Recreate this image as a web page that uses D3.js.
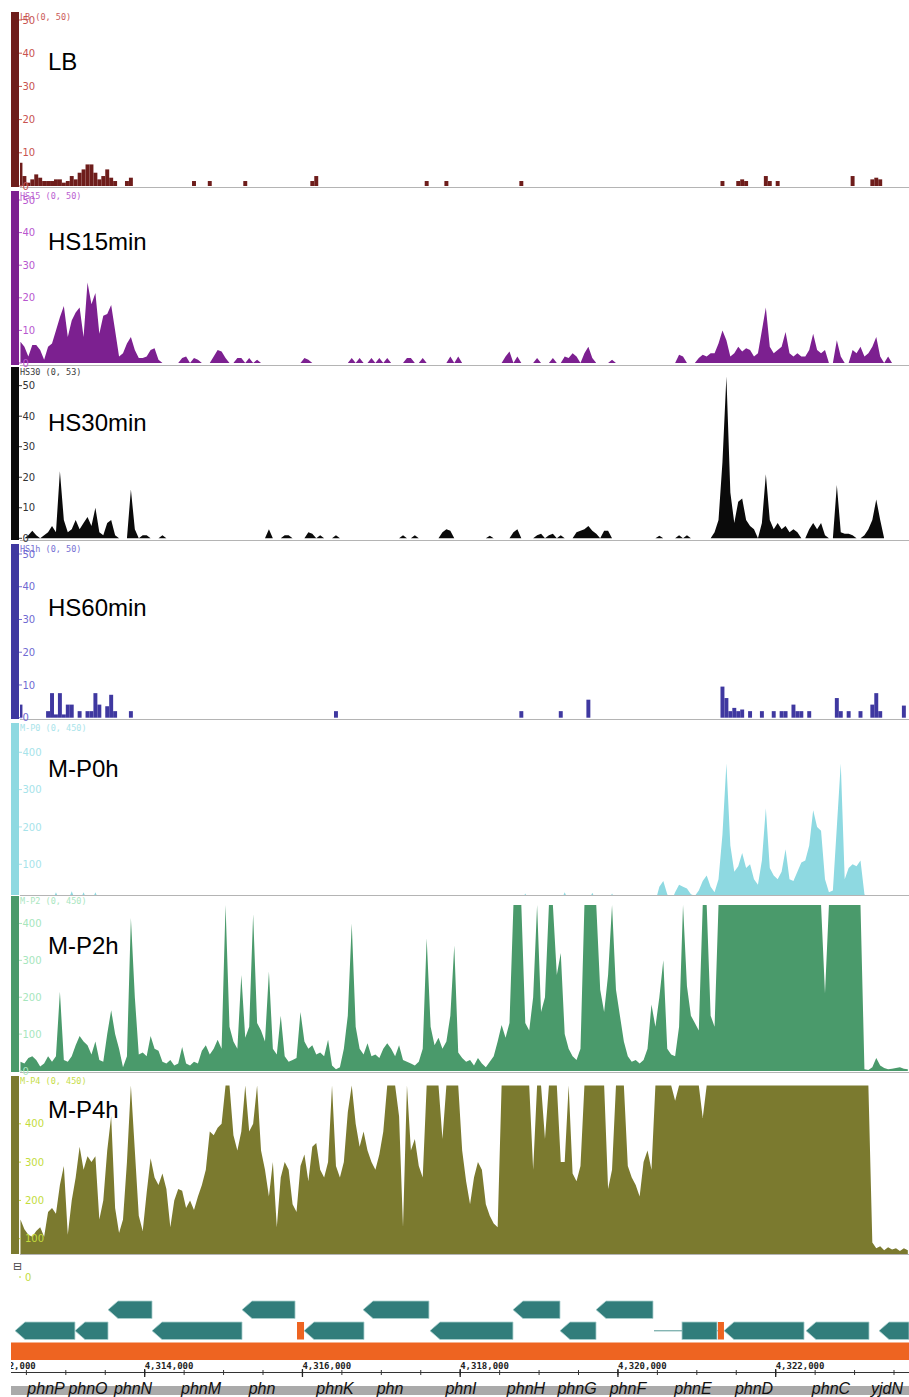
<!DOCTYPE html>
<html><head><meta charset="utf-8">
<script src="https://cdn.jsdelivr.net/npm/d3@7"></script>
<style>body{margin:0;background:#fff}svg{display:block}</style>
</head><body>
<svg id="c" width="909" height="1397"></svg>
<script>
// ---------------- DATA ----------------
const BIN_START = 4312400, BIN_SIZE = 50, N_BINS = 226;

// sparse tracks: [binIndex, coverage]
const lbData = [[0,7],[1,3],[2,1],[3,2],[4,3.5],[5,2.5],[6,1.5],[7,1.5],[8,1.5],[9,2],[10,2],[11,1],[12,1.5],[13,3],[14,2],[15,4],[16,5],[17,6.5],[18,6.5],[19,4],[20,2],[21,3],[22,5],[23,2.5],[24,1.5],[27,1.5],[28,2.5],[44,1.5],[48,1.5],[57,1.5],[74,1.5],[75,3],[103,1.5],[108,1.5],[127,1.5],[178,1.5],[182,1.5],[183,2],[184,1.5],[189,3],[190,1.5],[192,1.5],[211,3],[216,2],[217,2.5],[218,2]];

const hs15Data = [[0,6.5],[1,5],[2,2],[3,5.5],[4,5.5],[5,4],[6,1],[7,5],[8,6],[9,10],[10,14],[11,17.5],[12,8],[13,13],[14,15.5],[15,17],[16,8],[17,24.7],[18,18],[19,21.5],[20,9],[21,14.5],[22,15],[23,17.8],[24,10],[25,2],[26,3],[27,6],[28,8],[29,4],[30,1.5],[31,1.5],[32,2],[33,4],[34,4.5],[35,1],[41,1.5],[42,2],[44,1.5],[45,1],[49,2],[50,4],[51,3.5],[52,1.5],[55,1.5],[56,1.5],[58,1.5],[60,1],[72,1.5],[73,1],[84,1.5],[86,1.5],[89,1.5],[91,1.5],[93,1.5],[98,1.5],[99,1.5],[102,1.5],[109,2],[111,2],[123,2],[124,3.5],[126,2],[131,1.5],[135,1.5],[138,2],[139,1.5],[140,3],[141,2],[143,3],[144,5],[145,1.5],[150,1],[167,2.5],[168,2],[172,1.5],[173,2.5],[174,2],[175,3],[176,3],[177,6],[178,10],[179,7],[180,2],[181,3],[182,5],[183,3.5],[184,4.5],[185,4],[186,2],[187,3],[188,10],[189,17],[190,5],[191,3],[192,4],[193,5],[194,9.5],[195,3],[196,2],[197,3],[198,2],[199,2],[200,4],[201,9],[202,4],[203,3],[204,4],[207,7],[208,2],[211,4],[212,3],[213,5],[214,2],[215,3],[216,5],[217,8],[218,2],[220,2]];

const hs30Data = [[2,1],[3,2.5],[4,1],[6,1],[7,2],[8,4],[9,2],[10,22],[11,6],[12,2],[13,3],[14,6],[15,3],[16,5],[17,7],[18,4],[19,10],[20,2],[21,1],[22,5],[23,6],[24,1],[28,16],[29,3],[31,1],[32,1],[36,1],[63,3],[67,1],[68,1],[73,2],[74,1.5],[76,1],[80,1],[97,1],[100,1],[107,2],[108,3],[109,2.5],[119,0.8],[125,2],[126,3],[131,1],[132,1.5],[134,1],[135,1.5],[137,1],[141,2],[142,2.5],[143,3],[144,4],[145,2.5],[146,1.5],[148,2.5],[149,2.5],[162,0.8],[167,1],[169,1],[176,2],[177,6],[178,25],[179,53],[180,15],[181,5],[182,12],[183,13],[184,6],[185,4],[186,3],[188,5],[189,21],[190,6],[191,3],[192,5],[193,3],[194,4],[195,2],[196,3],[197,2],[200,3],[201,5],[202,3],[203,5],[204,1],[207,17.5],[208,2],[209,1.5],[210,1.5],[211,1],[214,1],[215,3],[216,6],[217,12.7],[218,6]];

const hs60Data = [[0,4],[7,2],[8,7.5],[9,1],[10,7.5],[11,1],[12,4],[13,4],[15,2],[17,2],[18,2],[19,7.5],[20,4],[22,3.5],[23,7],[24,2],[28,2],[80,2],[127,2],[137,2],[144,5.5],[178,9.5],[179,6],[180,2],[181,3],[182,2],[183,2.5],[185,2],[188,2],[191,2],[193,2],[194,2],[196,4],[197,2],[198,2],[200,2],[207,6],[208,2],[210,2],[213,2],[216,4],[217,7.5],[218,2],[224,3.7]];

const mp0Data = [[9,25],[13,28],[16,25],[19,25],[128,22],[138,25],[145,24],[150,22],[162,40],[163,55],[164,20],[166,25],[167,45],[168,40],[169,35],[170,20],[171,15],[172,30],[173,55],[174,70],[175,40],[176,25],[177,60],[178,180],[179,370],[180,150],[181,80],[182,95],[183,130],[184,90],[185,100],[186,60],[187,45],[188,110],[189,250],[190,90],[191,70],[192,60],[193,80],[194,140],[195,60],[196,55],[197,80],[198,105],[199,110],[200,150],[201,245],[202,200],[203,190],[204,60],[205,25],[206,30],[207,200],[208,370],[209,60],[210,90],[211,100],[212,95],[213,110],[214,20]];

const mp2Data = [25,20,35,40,30,12,20,40,25,40,
 215,30,25,40,70,95,80,70,45,80,
 30,25,100,165,100,60,10,40,415,200,
 45,50,40,95,60,55,25,20,30,15,
 20,65,20,15,25,20,55,70,45,60,
 85,60,450,120,80,60,260,90,120,425,
 130,110,80,270,60,45,150,40,25,30,
 35,160,80,60,70,45,50,40,85,15,
 5,10,60,150,400,120,60,45,75,40,
 45,35,60,75,60,40,70,30,25,20,
 15,25,60,360,120,70,90,60,80,150,
 340,50,35,25,30,15,35,20,10,25,
 40,80,125,90,130,450,450,450,130,110,
 200,450,160,200,450,450,260,320,100,60,
 40,30,60,450,450,450,450,220,160,260,
 450,220,150,80,40,25,30,20,30,60,
 180,120,200,300,60,45,40,120,450,230,
 150,130,110,450,450,150,120,450,450,450,
 450,450,450,450,450,450,450,450,450,450,
 450,450,450,450,450,450,450,450,450,450,
 450,450,450,450,210,450,450,450,450,450,
 450,450,450,450,5,3,10,35,15,8,
 5,6,8,10,6,5];

const mp4Data = [150,125,110,105,120,130,105,170,180,165,
 240,290,110,200,260,340,280,315,300,315,
 150,200,330,420,180,115,150,300,500,330,
 160,120,220,310,260,240,270,230,130,200,
 230,225,180,200,175,210,240,280,380,370,
 390,400,500,500,370,330,380,500,380,400,
 500,330,280,210,300,130,260,300,280,190,
 170,290,320,250,340,350,280,260,300,500,
 290,260,300,430,500,400,340,380,330,300,
 280,320,380,500,500,500,420,130,500,330,
 360,290,260,500,500,500,500,360,500,500,
 500,500,330,250,190,260,300,280,190,160,
 140,130,500,500,500,500,500,500,500,500,
 280,500,500,360,500,500,500,300,300,500,
 270,250,290,500,500,500,500,500,500,230,
 280,500,500,500,290,260,240,210,300,330,
 280,500,500,500,500,500,460,500,500,500,
 500,500,500,415,500,500,500,500,500,500,
 500,500,500,500,500,500,500,500,500,500,
 500,500,500,500,500,500,500,500,500,500,
 500,500,500,500,500,500,500,500,500,500,
 500,500,500,500,500,500,90,75,80,70,
 78,72,75,68,75,70];

// tick labels
const ticks50 = [0,10,20,30,40,50];
const ticksP0 = [100,200,300,400];
const ticksP2 = [0,100,200,300,400];
const ticksP4 = [0,100,200,300,400];
const axisMajorTicks = [4312000,4314000,4316000,4318000,4320000,4322000];

// genes: [start, end, row, kind]  kind: gene (arrow left), block (no arrow), rna (orange), line
const geneStart = [4313535,4315234,4316768,4318669,4319722, 4312356,4313116,4314093,4316020,4317617,4319265,4320812,4321344,4322384,4323310, 4315931,4321268, 4320457,4321256];
const geneEnd   = [4314093,4315906,4317604,4319265,4320444, 4313116,4313535,4315234,4316780,4318669,4319722,4321256,4322359,4323183,4324100, 4316020,4321344, 4320812,4321268];
const geneRow   = [0,0,0,0,0, 1,1,1,1,1,1,1,1,1,1, 1,1, 1,1];
const geneKind  = ["gene","gene","gene","gene","gene", "gene","gene","gene","gene","gene","gene","block","gene","gene","gene", "rna","rna", "line","line"];
const geneNames = ["phnP","phnO","phnN","phnM","phn","phnK","phn","phnI","phnH","phnG","phnF","phnE","phnD","phnC","yjdN"];
const geneNamePos = [4312749,4313281,4313852,4314714,4315487,4316413,4317110,4318010,4318834,4319481,4320127,4320951,4321725,4322701,4323411];

// ---------------- DRAW ----------------
const svg = d3.select("#c");
const x = d3.scaleLinear().domain([4312305, 4323690]).range([11, 909]);
const binCenter = i => BIN_START + BIN_SIZE * (i + 0.5);
function expand(sparse){ const a = new Array(N_BINS).fill(0); sparse.forEach(([i,v]) => a[i] = v); return a; }

const tracks = [
 {title:"LB", header:"LB (0, 50)", values:expand(lbData), top:12, bottom:187, zero:186, vmax:50, ymax:20, ticks:ticks50, color:"#6e1d1b", tick:"#c85250", bars:true, titleY:70},
 {title:"HS15min", header:"HS15 (0, 50)", values:expand(hs15Data), top:191, bottom:365, zero:363, vmax:50, ymax:200, ticks:ticks50, color:"#7c2090", tick:"#b857cf", bars:false, titleY:250},
 {title:"HS30min", header:"HS30 (0, 53)", values:expand(hs30Data), top:367, bottom:540, zero:538.3, vmax:53, ymax:376.5, ticks:ticks50, color:"#0a0a0a", tick:"#333333", bars:false, titleY:431},
 {title:"HS60min", header:"HS1h (0, 50)", values:expand(hs60Data), top:544, bottom:719, zero:717.7, vmax:50, ymax:554, ticks:ticks50, color:"#3f38a0", tick:"#6f6ad2", bars:true, titleY:616},
 {title:"M-P0h", header:"M-P0 (0, 450)", values:expand(mp0Data), top:723, bottom:895, zero:901.6, vmax:450, ymax:733.6, ticks:ticksP0, color:"#8ed9e1", tick:"#a6e3ea", bars:false, titleY:777},
 {title:"M-P2h", header:"M-P2 (0, 450)", values:mp2Data, top:896, bottom:1072, zero:1071, vmax:450, ymax:905, ticks:ticksP2, color:"#4a9a6b", tick:"#a6e6bd", bars:false, titleY:954},
 {title:"M-P4h", header:"M-P4 (0, 450)", values:mp4Data, top:1076, bottom:1254, zero:1277, vmax:500, ymax:1085.5, ticks:ticksP4, color:"#7b7a2f", tick:"#c3dc3c", bars:false, titleY:1118, spaced:true}
];

const defs = svg.append("defs");
tracks.forEach((t, k) => {
  const g = svg.append("g");
  const y = d3.scaleLinear().domain([0, t.vmax]).range([t.zero, t.ymax]).clamp(true);
  defs.append("clipPath").attr("id", "clip" + k).append("rect")
    .attr("x", 20).attr("y", t.top).attr("width", 889).attr("height", t.bottom - t.top);
  const dg = g.append("g").attr("clip-path", `url(#clip${k})`);
  if (t.bars) {
    dg.selectAll("rect").data(t.values.map((v,i)=>({v,i})).filter(d=>d.v>0)).join("rect")
      .attr("x", d => x(BIN_START + BIN_SIZE*d.i))
      .attr("width", d => x(BIN_START + BIN_SIZE*(d.i+1)) - x(BIN_START + BIN_SIZE*d.i))
      .attr("y", d => y(d.v)).attr("height", d => t.zero - y(d.v))
      .attr("fill", t.color);
  } else {
    const area = d3.area().x((d,i) => x(binCenter(i))).y0(t.zero).y1(d => y(d)).curve(d3.curveLinear);
    dg.append("path").attr("d", area(t.values)).attr("fill", t.color);
  }
  // baseline separator
  g.append("line").attr("x1", 20).attr("x2", 909).attr("y1", t.bottom + 0.5).attr("y2", t.bottom + 0.5)
    .attr("stroke", "#b4b4b4").attr("stroke-width", 1);
  // left colour bar
  g.append("rect").attr("x", 11).attr("y", t.top).attr("width", 8).attr("height", t.bottom - t.top).attr("fill", t.color);
  // ticks
  const tg = g.append("g").attr("font-family", "DejaVu Sans, sans-serif").attr("font-size", 10).attr("fill", t.tick);
  t.ticks.forEach(v => {
    const yy = y(v);
    tg.append("line").attr("x1", 19).attr("x2", t.spaced ? 21 : 22).attr("y1", yy).attr("y2", yy).attr("stroke", t.tick);
    tg.append("text").attr("x", t.spaced ? 25 : 22.5).attr("y", yy).attr("dy", "0.36em").text(v);
  });
  // header
  g.append("text").attr("x", 20).attr("y", t.top + 7.5).attr("font-family", "DejaVu Sans Mono, monospace")
    .attr("font-size", 8.5).attr("fill", t.tick).attr("opacity", 0.95).text(t.header);
  // title
  g.append("text").attr("x", 48).attr("y", t.titleY).attr("font-family", "Liberation Sans, Arial, sans-serif")
    .attr("font-size", 24).attr("fill", "#000").text(t.title);
});

// collapse icon
svg.append("text").attr("x", 13).attr("y", 1270).attr("font-family", "DejaVu Sans").attr("font-size", 11)
  .attr("fill", "#444").text("⊟");

// gene track
const rowY = [1301, 1322], gh = 17.5;
const gg = svg.append("g");
geneStart.forEach((s, k) => {
  const x0 = Math.max(x(s), 11), x1 = Math.min(x(geneEnd[k]), 909), y0 = rowY[geneRow[k]];
  const kind = geneKind[k];
  if (kind === "line") {
    gg.append("line").attr("x1", x0).attr("x2", x1).attr("y1", y0 + gh/2).attr("y2", y0 + gh/2)
      .attr("stroke", "#6fa8a6").attr("stroke-width", 1.2);
  } else if (kind === "rna") {
    gg.append("rect").attr("x", x0).attr("y", y0).attr("width", x1 - x0).attr("height", gh).attr("fill", "#ee6421");
  } else if (kind === "block") {
    gg.append("rect").attr("x", x0).attr("y", y0).attr("width", x1 - x0).attr("height", gh)
      .attr("fill", "#317d7b").attr("stroke", "#a9cfce").attr("stroke-width", 0.8);
  } else {
    const ah = Math.min(10, (x1 - x0) * 0.4);
    const pts = [[x0, y0 + gh/2], [x0 + ah, y0], [x1, y0], [x1, y0 + gh], [x0 + ah, y0 + gh]];
    gg.append("path").attr("d", "M" + pts.map(p => p.join(",")).join("L") + "Z")
      .attr("fill", "#317d7b").attr("stroke", "#a9cfce").attr("stroke-width", 0.8);
  }
});
// orange sequence bar
svg.append("rect").attr("x", 11).attr("y", 1342.5).attr("width", 898).attr("height", 17.5).attr("fill", "#ee6421");

// genomic axis
defs.append("clipPath").attr("id", "clipAxis").append("rect").attr("x", 11).attr("y", 1355).attr("width", 898).attr("height", 30);
const ag = svg.append("g").attr("clip-path", "url(#clipAxis)");
ag.append("line").attr("x1", 11).attr("x2", 909).attr("y1", 1372.5).attr("y2", 1372.5).attr("stroke", "#333");
const minorTicks = d3.range(4312000, 4324000, 500);
ag.selectAll("line.mn").data(minorTicks).join("line").attr("class", "mn")
  .attr("x1", d => x(d)).attr("x2", d => x(d)).attr("y1", 1370).attr("y2", 1375).attr("stroke", "#333");
ag.selectAll("line.mj").data(axisMajorTicks).join("line").attr("class", "mj")
  .attr("x1", d => x(d)).attr("x2", d => x(d)).attr("y1", 1369).attr("y2", 1377).attr("stroke", "#222").attr("stroke-width", 1.3);
ag.selectAll("text").data(axisMajorTicks).join("text")
  .attr("x", d => x(d)).attr("y", 1369).attr("font-family", "DejaVu Sans Mono, monospace").attr("font-size", 9)
  .attr("font-weight", "bold").attr("fill", "#222").text(d => d3.format(",")(d));

// gene names
svg.append("rect").attr("x", 11).attr("y", 1386).attr("width", 898).attr("height", 9).attr("fill", "#aaaaaa");
svg.selectAll("text.gn").data(geneNames).join("text").attr("class", "gn")
  .attr("x", (d, i) => x(geneNamePos[i])).attr("y", 1394).attr("text-anchor", "middle")
  .attr("font-family", "Liberation Sans, Arial, sans-serif").attr("font-style", "italic").attr("font-size", 16)
  .attr("fill", "#111").text(d => d);
</script>
</body></html>
